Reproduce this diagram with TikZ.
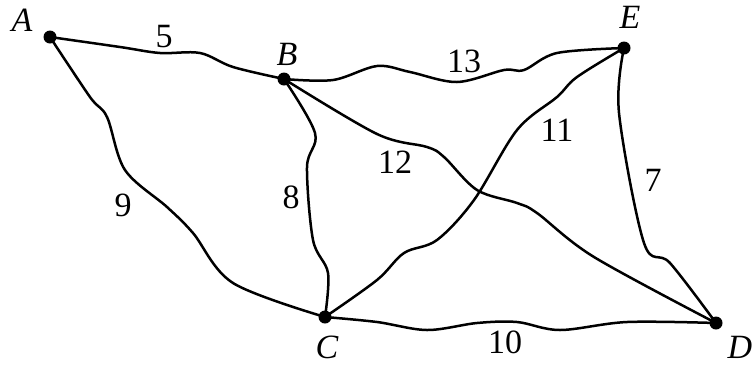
\documentclass[tikz,border=0pt]{standalone}
\usepackage{fontspec}
\setmainfont{Liberation Serif}
\begin{document}
\begin{tikzpicture}[x=0.5pt,y=-0.5pt,line cap=round,line join=round,
  font=\fontsize{17}{20}\selectfont,
  vertex/.style={circle,fill,inner sep=0pt,minimum size=6.5pt},
  edge/.style={line width=1.25pt,smooth,tension=0.55}]
  \useasboundingbox (0,0) rectangle (754,365);
  \node[vertex] (A) at (50,37) {};
  \node[vertex] (B) at (284,79) {};
  \node[vertex] (C) at (325,317) {};
  \node[vertex] (D) at (716,323) {};
  \node[vertex] (E) at (624,48) {};
  \node (lA) at (22,20) {\textit{A}};
  \node (lB) at (287,54) {\textit{B}};
  \node (lC) at (327,347) {\textit{C}};
  \node (lD) at (740,347) {\textit{D}};
  \node (lE) at (630,17) {\textit{E}};
  \draw[edge] plot coordinates {(A) (120,47) (160,53) (200,53) (233,67) (B)};
  \draw[edge] plot coordinates {(A) (90,97) (107,117) (125,170) (167,207) (193,233) (233,283) (C)};
  \draw[edge] plot coordinates {(B) (315,133) (307,167) (313,240) (328,273) (C)};
  \draw[edge] plot coordinates {(B) (333,80) (377,66) (410,72) (457,82) (504,70) (524,70) (557,53) (E)};
  \draw[edge] plot coordinates {(B) (377,134) (427,147) (444,157) (477,190) (517,203) (537,213) (594,257) (D)};
  \draw[edge] plot coordinates {(C) (377,280) (404,253) (437,240) (474,200) (517,130) (557,97) (577,77) (E)};
  \draw[edge] plot coordinates {(E) (619,113) (644,243) (670,263) (D)};
  \draw[edge] plot coordinates {(C) (377,322) (427,330) (477,323) (517,322) (560,330) (627,322) (D)};
  \node (w5) at (164,37) {5};
  \node (w9) at (123,205) {9};
  \node (w8) at (291,197) {8};
  \node (w13) at (464,61) {13};
  \node (w12) at (395,162) {12};
  \node (w11) at (557,130) {11};
  \node (w7) at (653,180) {7};
  \node (w10) at (505,342) {10};
\end{tikzpicture}
\end{document}
